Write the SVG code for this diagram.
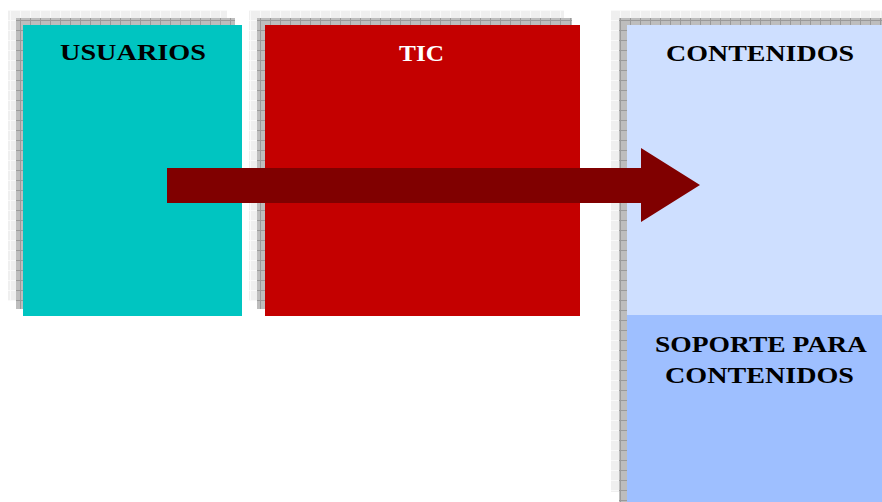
<svg xmlns="http://www.w3.org/2000/svg" width="882" height="502" viewBox="0 0 882 502">
<defs>
<pattern id="pl" width="10" height="10" patternUnits="userSpaceOnUse">
<rect width="10" height="10" fill="#EFEFEF"/>
<path d="M0 0.5H10M0.5 0V10" stroke="#F9F9F9" stroke-width="1"/>
</pattern>
<pattern id="pd" width="10" height="10" patternUnits="userSpaceOnUse">
<rect width="10" height="10" fill="#BDBDBD"/>
<path d="M0 0.5H10M0.5 0V10" stroke="#9A9A9A" stroke-width="1"/>
</pattern>
</defs>
<style>
.sl{fill:url(#pl)}
.sd{fill:url(#pd)}
.t{font-family:"Liberation Serif","Times New Roman",serif;font-weight:bold;font-size:24px}
</style>
<rect width="882" height="502" fill="#FFFFFF"/>
<g id="usuarios">
<rect class="sl" x="8" y="10" width="219" height="291"/>
<rect class="sd" x="16" y="18" width="219" height="291"/>
<rect x="23" y="25" width="219" height="291" fill="#00C5C1"/>
<text class="t" x="60" y="60" textLength="146" lengthAdjust="spacingAndGlyphs" fill="#000000">USUARIOS</text>
</g>
<g id="tic">
<rect class="sl" x="249" y="10" width="315" height="291"/>
<rect class="sd" x="257" y="18" width="315" height="291"/>
<rect x="265" y="25" width="315" height="291" fill="#C40000"/>
<text class="t" x="399" y="61" textLength="45" lengthAdjust="spacingAndGlyphs" fill="#FFFFFF">TIC</text>
</g>
<g id="contenidos">
<rect class="sl" x="611" y="10" width="280" height="482"/>
<rect class="sd" x="619" y="18" width="280" height="490"/>
<rect x="627" y="25" width="260" height="290" fill="#CEDFFF"/>
<text class="t" x="666" y="61" textLength="188" lengthAdjust="spacingAndGlyphs" fill="#000000">CONTENIDOS</text>
</g>
<g id="soporte">
<rect x="627" y="315" width="260" height="190" fill="#9EBFFF"/>
<text class="t" x="655" y="352" textLength="212" lengthAdjust="spacingAndGlyphs" fill="#000000">SOPORTE PARA</text>
<text class="t" x="665" y="383" textLength="189" lengthAdjust="spacingAndGlyphs" fill="#000000">CONTENIDOS</text>
</g>
<g id="connectors">
<polygon points="167,168 641,168 641,148 700,185 641,222 641,203 167,203" fill="#800000"/>
</g>
</svg>
